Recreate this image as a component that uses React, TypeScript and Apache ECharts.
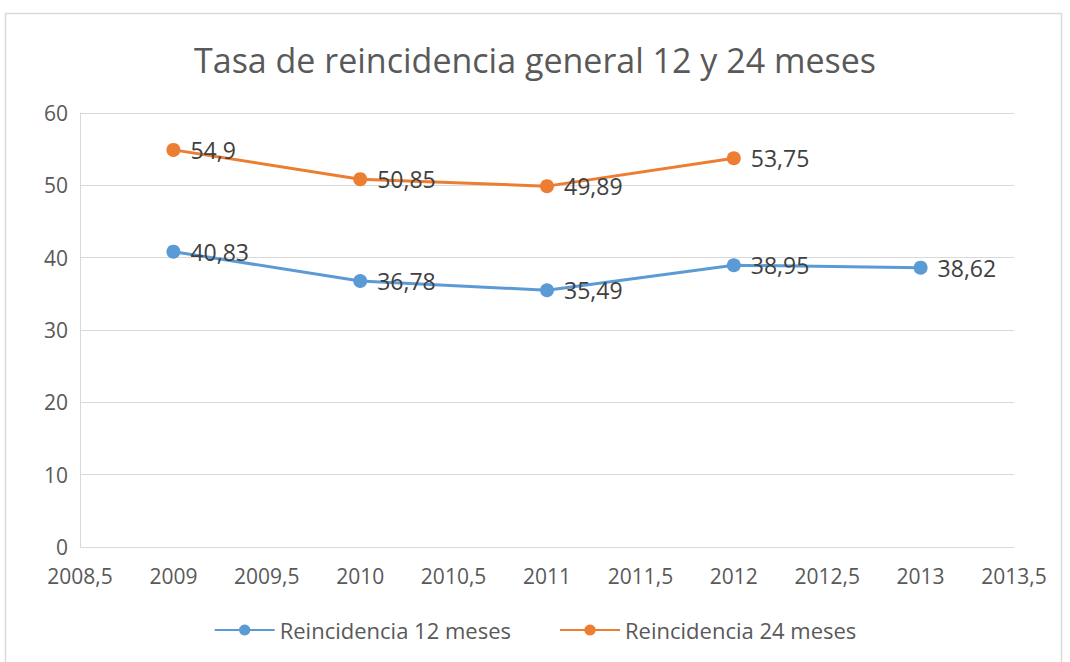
import React, { useEffect, useRef } from "react";
import * as echarts from "echarts";

const years = [2009, 2010, 2011, 2012, 2013];
const reinc12 = [40.83, 36.78, 35.49, 38.95, 38.62];
const reinc24: (number | null)[] = [54.9, 50.85, 49.89, 53.75, null];
const titleText = "Tasa de reincidencia general 12 y 24 meses";
const seriesNames = ["Reincidencia 12 meses", "Reincidencia 24 meses"];

const fmt = (v: number) => String(v).replace(".", ",");

export default function App() {
  const ref = useRef<HTMLDivElement>(null);
  useEffect(() => {
    document.body.style.margin = "0";
    const chart = echarts.init(ref.current!, null, { renderer: "svg" });
    const font = "'Open Sans', 'Noto Sans', sans-serif";
    const mk = (vals: (number | null)[], i: number, color: string) => ({
      name: seriesNames[i],
      type: "line",
      data: years.map((y, k) => [y, vals[k]]),
      connectNulls: false,
      symbol: "circle",
      symbolSize: 14,
      lineStyle: { width: 3, color },
      itemStyle: { color },
      label: {
        show: true,
        position: "right",
        distance: 10,
        fontSize: 23,
        fontFamily: font,
        color: "#404040",
        formatter: (p: any) => fmt(p.value[1]),
      },
    });
    chart.setOption({
      animation: false,
      backgroundColor: "#fff",
      textStyle: { fontFamily: font },
      title: {
        text: titleText,
        left: "center",
        top: 38,
        textStyle: { fontSize: 34, fontWeight: "normal", color: "#595959", fontFamily: font },
      },
      grid: { left: 80, right: 56, top: 113, bottom: 115, containLabel: false },
      xAxis: {
        type: "value",
        min: 2008.5,
        max: 2013.5,
        interval: 0.5,
        axisLine: { show: true, lineStyle: { color: "#d9d9d9" } },
        axisTick: { show: false },
        splitLine: { show: false },
        axisLabel: {
          color: "#595959",
          fontSize: 21,
          margin: 18,
          fontFamily: font,
          formatter: (v: number) => fmt(v),
        },
      },
      yAxis: {
        type: "value",
        min: 0,
        max: 60,
        interval: 10,
        axisLine: { show: true, lineStyle: { color: "#d9d9d9" } },
        axisTick: { show: false },
        splitLine: { show: true, lineStyle: { color: "#d9d9d9" } },
        axisLabel: { color: "#595959", fontSize: 21, margin: 12, fontFamily: font },
      },
      legend: {
        bottom: 16,
        left: "center",
        itemWidth: 60,
        itemHeight: 14,
        itemGap: 48,
        textStyle: { fontSize: 22, color: "#595959", fontFamily: font },
        data: seriesNames,
      },
      graphic: [
        {
          type: "rect",
          shape: { x: 5.5, y: 13.5, width: 1056, height: 660 },
          style: { fill: "none", stroke: "#d9d9d9", lineWidth: 1.5 },
          silent: true,
        },
      ],
      series: [mk(reinc12, 0, "#5B9BD5"), mk(reinc24, 1, "#ED7D31")],
    });
    return () => chart.dispose();
  }, []);
  return <div ref={ref} style={{ width: 1070, height: 662 }} />;
}
